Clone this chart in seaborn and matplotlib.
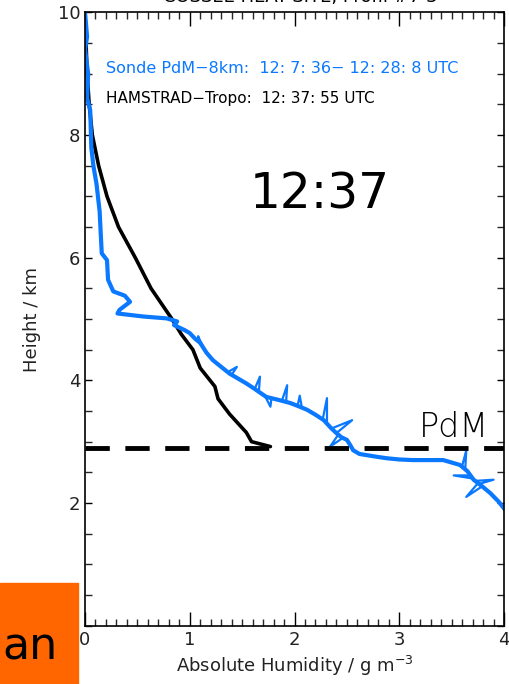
import matplotlib
matplotlib.use("Agg")
import matplotlib.pyplot as plt
import seaborn as sns
import numpy as np
import pandas as pd
from matplotlib.ticker import MultipleLocator

sns.set_style("ticks")
plt.rcParams['font.family'] = ['DejaVu Sans']

# HAMSTRAD-Tropo profile (absolute humidity g m-3, height km)
hamstrad_ah = [0.00, 0.01, 0.02, 0.04, 0.07, 0.13, 0.21, 0.32, 0.48, 0.63, 0.83,
               0.92, 1.03, 1.10, 1.24, 1.27, 1.38, 1.54, 1.59, 1.77]
hamstrad_h = [10.0, 9.5, 9.0, 8.5, 8.0, 7.5, 7.0, 6.5, 6.0, 5.5, 5.0,
              4.75, 4.5, 4.2, 3.9, 3.7, 3.45, 3.15, 3.0, 2.92]

# Radiosonde profile
sonde_ah = [0.00, 0.02, 0.00, 0.03, 0.02, 0.05, 0.06, 0.08, 0.11, 0.13, 0.14, 0.15,
            0.16, 0.21, 0.22, 0.27, 0.38, 0.43, 0.33, 0.31, 0.56, 0.78, 0.88, 0.85,
            0.95, 1.00, 1.05, 1.10, 1.16, 1.22, 1.30, 1.38, 1.46, 1.54, 1.62, 1.73,
            1.85, 1.96, 2.05, 2.12, 2.20, 2.28, 2.35, 2.40, 2.45, 2.50, 2.53, 2.56,
            2.62, 2.69, 2.80, 2.88, 3.00, 3.13, 3.30, 3.42, 3.50, 3.58, 3.65, 3.71,
            3.80, 3.87, 3.95, 4.01]
sonde_h = [10.0, 9.6, 9.4, 9.0, 8.6, 8.4, 7.8, 7.5, 7.2, 6.9, 6.75, 6.4,
           6.07, 5.96, 5.64, 5.45, 5.38, 5.28, 5.15, 5.09, 5.04, 5.01, 4.96, 4.90,
           4.82, 4.77, 4.68, 4.61, 4.45, 4.33, 4.22, 4.11, 4.03, 3.95, 3.86, 3.73,
           3.68, 3.63, 3.57, 3.52, 3.44, 3.35, 3.22, 3.14, 3.07, 3.03, 2.95, 2.86,
           2.80, 2.78, 2.75, 2.73, 2.71, 2.70, 2.70, 2.70, 2.66, 2.62, 2.52, 2.38,
           2.26, 2.16, 2.02, 1.89]

# Radiosonde noise spikes (base, tip, base)
spike_id = [1, 1, 1, 2, 2, 2, 3, 3, 3, 4, 4, 4, 5, 5, 5, 6, 6, 6, 7, 7, 7,
            8, 8, 8, 9, 9, 9, 10, 10, 10, 11, 11, 11, 12, 12, 12, 13, 13, 13]
spike_ah = [1.08, 1.08, 1.12, 1.36, 1.45, 1.40, 1.62, 1.67, 1.66, 1.72, 1.77, 1.78,
            1.88, 1.93, 1.92, 2.03, 2.05, 2.07, 2.27, 2.31, 2.31, 2.36, 2.55, 2.40,
            2.42, 2.34, 2.46, 3.60, 3.64, 3.63, 3.72, 3.90, 3.76, 3.75, 3.64, 3.79,
            3.68, 3.52, 3.70]
spike_h = [4.64, 4.72, 4.57, 4.13, 4.22, 4.09, 3.86, 4.06, 3.81, 3.74, 3.57, 3.71,
           3.67, 3.92, 3.65, 3.59, 3.75, 3.56, 3.37, 3.71, 3.31, 3.22, 3.35, 3.14,
           3.12, 2.92, 3.06, 2.60, 2.86, 2.55, 2.36, 2.38, 2.31, 2.32, 2.10, 2.27,
           2.45, 2.45, 2.40]

pdm_height = 2.9

x_ticks = [0, 1, 2, 3, 4]
y_ticks = [2, 4, 6, 8, 10]

blue = "#0a78ff"

fig = plt.figure(figsize=(5.09, 6.84), dpi=100)
ax = fig.add_axes([85/509, 1-625.7/684, (504-85)/509, (625.7-12.3)/684])

df_h = pd.DataFrame({"ah": hamstrad_ah, "h": hamstrad_h})
df_s = pd.DataFrame({"ah": sonde_ah, "h": sonde_h})
df_sp = pd.DataFrame({"id": spike_id, "ah": spike_ah, "h": spike_h})

sns.lineplot(data=df_h, x="ah", y="h", sort=False, estimator=None, color="black",
             lw=2.6, ax=ax)
sns.lineplot(data=df_s, x="ah", y="h", sort=False, estimator=None, color=blue,
             lw=3.0, ax=ax)
sns.lineplot(data=df_sp, x="ah", y="h", units="id", sort=False, estimator=None,
             color=blue, lw=1.6, ax=ax)
ax.axhline(pdm_height, color="black", lw=3.5, dashes=(5, 3.2))

ax.set_xlim(0, 4)
ax.set_ylim(0, 10)
ax.set_xticks(x_ticks)
ax.set_yticks(y_ticks)
ax.xaxis.set_minor_locator(MultipleLocator(0.1))
ax.yaxis.set_minor_locator(MultipleLocator(0.5))
ax.tick_params(which="major", direction="in", top=True, right=True, length=10,
               width=1, labelsize=13, colors="black", labelcolor="#222222")
ax.tick_params(axis="y", which="major", length=5)
ax.tick_params(which="minor", direction="in", top=True, right=True, length=5, width=1)
for s in ax.spines.values():
    s.set_linewidth(1.2)
    s.set_color("black")

ax.set_xlabel("Absolute Humidity / g m$^{-3}$", fontsize=13, color="#222222", labelpad=4)
ax.set_ylabel("Height / km", fontsize=13, color="#222222", labelpad=12)

ax.text(0.05, 0.908, "Sonde PdM\u22128km:  12: 7: 36\u2212 12: 28: 8 UTC", transform=ax.transAxes,
        color=blue, fontsize=11.5, va="center")
ax.text(0.05, 0.859, "HAMSTRAD\u2212Tropo:  12: 37: 55 UTC", transform=ax.transAxes,
        color="black", fontsize=11, va="center")
ax.text(0.394, 0.703, "12:37", transform=ax.transAxes, color="black", fontsize=35,
        va="center", ha="left")
ax.text(3.86, pdm_height + 0.07, "PdM", color="black", fontsize=24, ha="right",
        va="bottom", fontweight="light")

fig.text(300/509, 1 + 3/684, "COSSEE HEAT-SITE, Profil #7 3", ha="center", va="center",
         fontsize=13, color="black")

# orange box
fig.patches.append(plt.Rectangle((0, 0), 78/509, 101/684, transform=fig.transFigure,
                                 color="#ff6600", zorder=5))
fig.text(2/509, 25/684, "an", fontsize=32, color="black", ha="left", va="baseline", zorder=6)

fig.savefig("out.png", dpi=100)
